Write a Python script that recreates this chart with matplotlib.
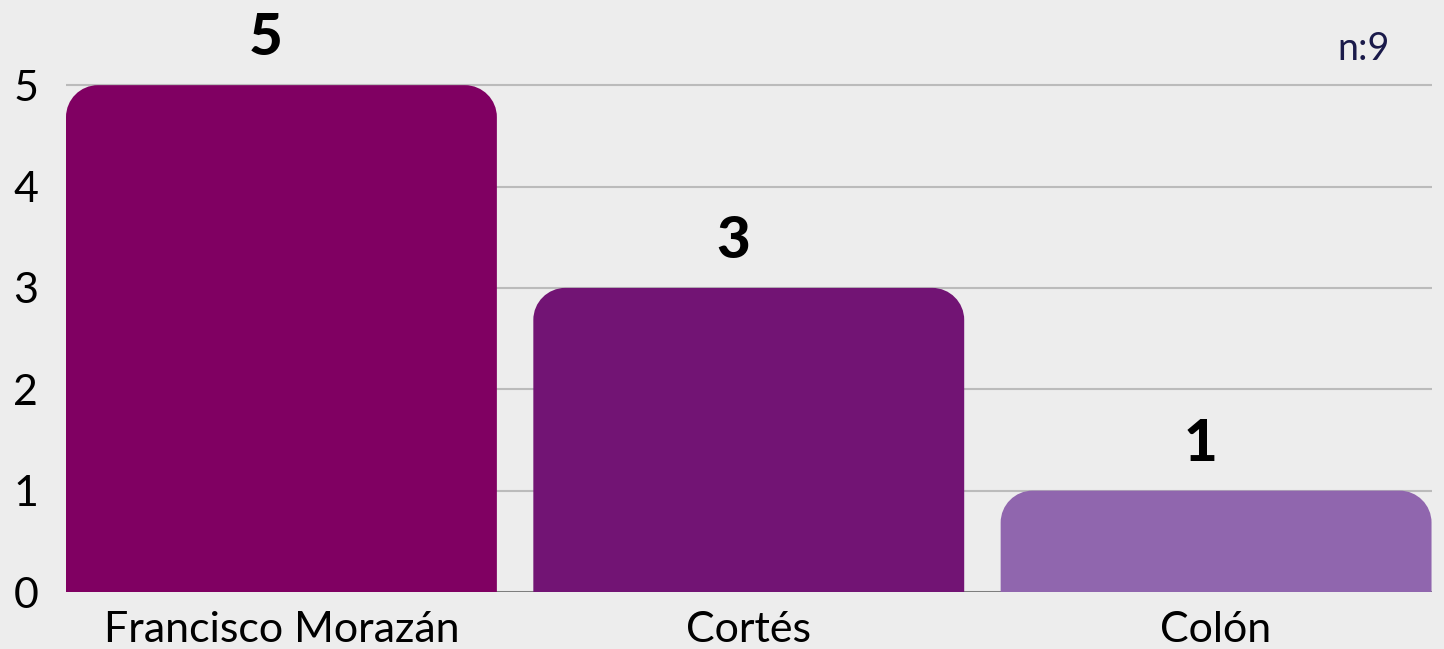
import matplotlib
matplotlib.use("Agg")
import matplotlib.pyplot as plt
from matplotlib.path import Path
from matplotlib.patches import PathPatch

categories = ["Francisco Morazán", "Cortés", "Colón"]
values = [5, 3, 1]
colors = ["#800062", "#721474", "#9066ae"]
yticks = [0, 1, 2, 3, 4, 5]
n_label = "n:9"

plt.rcParams['font.family'] = ['Lato', 'DejaVu Sans']
W, H = 1444, 649
fig = plt.figure(figsize=(W/100, H/100), dpi=100, facecolor="#ededed")
ax = fig.add_axes([66/W, 57/H, (1432-66)/W, (H-57)/H])
ax.set_facecolor("#ededed")
ax.set_xlim(-0.461, 2.462)
ax.set_ylim(0, 5.84)
ax.set_yticks(yticks)
ax.yaxis.grid(True, color="#bbbbbb", linewidth=1.5)
ax.set_axisbelow(True)
for s in ax.spines.values():
    s.set_visible(False)
ax.axhline(0, color="#777777", linewidth=2, zorder=1)
ax.tick_params(axis="both", length=0, labelsize=31, colors="black")
ax.tick_params(axis="y", pad=20)
ax.tick_params(axis="x", pad=14)

bars = ax.bar(range(len(categories)), values, width=0.922, color=colors, zorder=2)
ax.set_xticks(range(len(categories)))
ax.set_xticklabels(categories)

fig.canvas.draw()
# rounded top corners (radius in pixels converted to data units)
r_px = 32
inv = ax.transData.inverted()
p0 = inv.transform((0, 0)); p1 = inv.transform((r_px, r_px))
rx, ry = p1[0] - p0[0], p1[1] - p0[1]
k = 0.5523
for b in bars:
    x0, y0, w, h = b.get_x(), b.get_y(), b.get_width(), b.get_height()
    x1, y1 = x0 + w, y0 + h
    verts = [(x0, y0), (x0, y1 - ry),
             (x0, y1 - ry + k*ry), (x0 + rx - k*rx, y1), (x0 + rx, y1),
             (x1 - rx, y1),
             (x1 - rx + k*rx, y1), (x1, y1 - ry + k*ry), (x1, y1 - ry),
             (x1, y0), (x0, y0)]
    codes = [Path.MOVETO, Path.LINETO,
             Path.CURVE4, Path.CURVE4, Path.CURVE4,
             Path.LINETO,
             Path.CURVE4, Path.CURVE4, Path.CURVE4,
             Path.LINETO, Path.CLOSEPOLY]
    patch = PathPatch(Path(verts, codes), facecolor=b.get_facecolor(), edgecolor="none", zorder=2)
    b.set_visible(False)
    ax.add_patch(patch)
    ax.annotate(str(int(h)), (x0 + w/2, y1), xytext=(-16, 30), textcoords="offset pixels",
                ha="center", va="baseline", fontsize=42, fontweight="black", color="black")

fig.text(1390/W, (H-60)/H, n_label, ha="right", va="baseline", fontsize=27,
         color="#1a1a4a")

fig.savefig("out.png", dpi=100, facecolor=fig.get_facecolor())
